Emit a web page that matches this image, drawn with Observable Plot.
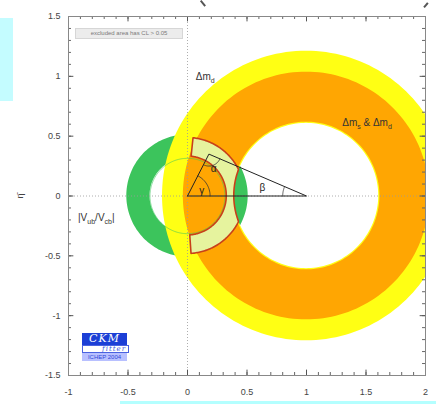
<!DOCTYPE html>
<html><head><meta charset="utf-8">
<script src="https://cdn.jsdelivr.net/npm/d3@7"></script>
<script src="https://cdn.jsdelivr.net/npm/@observablehq/plot@0.6"></script>
<style>
body{margin:0;background:#fff;font-family:"Liberation Sans",Arial,sans-serif;}
#wrap{position:relative;width:436px;height:404px;overflow:hidden;}
#wrap svg{position:absolute;left:0;top:0;}
.ov{position:absolute;}
#cyanL{left:0;top:18px;width:13px;height:83px;background:#c4fcff;}
#cyanB{left:120px;top:401px;width:316px;height:3px;background:#b4ffff;}
#legend{left:75px;top:28px;width:106px;height:9px;background:#ececec;border:1px solid #d6d6d6;font-size:6px;line-height:9px;color:#7a7a7a;text-align:center;white-space:nowrap;}
#logo1{left:82px;top:333px;width:45px;height:12px;background:#1c3fd6;color:#fff;font:italic 11px "DejaVu Serif",serif;line-height:12px;text-align:center;letter-spacing:1px;}
#logo2{left:82px;top:345px;width:43px;height:6px;background:#fff;border:1px solid #4a62e0;color:#3a55dd;font:italic 7px "DejaVu Serif",serif;line-height:6px;text-align:right;padding-right:2px;letter-spacing:1px;}
#logo3{left:82px;top:353px;width:45px;height:8px;background:#b8c0ff;color:#3048d8;font-size:6px;line-height:8px;text-align:center;}
#mk1{left:202px;top:0px;width:1.5px;height:7px;background:#555;transform:rotate(-40deg);}
#mk2{left:425px;top:2px;width:1.5px;height:6px;background:#555;transform:rotate(40deg);}
</style></head><body>
<div id="wrap">
<div class="ov" id="cyanL"></div>
<div class="ov" id="cyanB"></div>
<div class="ov" id="mk1"></div>
<div class="ov" id="mk2"></div>
</div>
<script>
// ---------- data ----------
// constraint bands (annuli): centre and inner/outer radius in (rho-bar, eta-bar)
const bandNames   = ["|Vub/Vcb|", "Δm_d", "Δm_s & Δm_d"];
const bandCenterX = [0, 1, 1];
const bandCenterY = [0, 0, 0];
const bandInnerR  = [0.315, 0.607, 0.617];
const bandOuterR  = [0.51, 1.21, 1.035];
const bandColors  = ["#3cc45c", "#ffff14", "#ffa602"];

// global fit region (annular sector around origin, cut by the Δm hole)
const fitInnerR = 0.33;
const fitOuterR = 0.485;
const fitAngleMin = -86;   // degrees
const fitAngleMax = 84;
const fitCutCenterX = 1;
const fitCutR = 0.607;

// unitarity triangle
const triRho = [0, 0.18, 1, 0];
const triEta = [0, 0.35, 0, 0];

// angle arcs: centre, radius
const arcNames = ["γ", "α", "β"];
const arcCx = [0, 0.18, 1];
const arcCy = [0, 0.35, 0];
const arcR  = [0.19, 0.1, 0.2];
const arcLabelX = [0.12, 0.22, 0.63];
const arcLabelY = [0.045, 0.23, 0.07];

// band labels
const labelText = ["Δm_{d}", "Δm_{s} & Δm_{d}", "|V_{ub}/V_{cb}|"];
const labelX = [0.07, 1.30, -0.92];
const labelY = [1.0, 0.61, -0.18];

// ticks
const xMajor = [-1, -0.5, 0, 0.5, 1, 1.5, 2];
const yMajor = [-1.5, -1, -0.5, 0, 0.5, 1, 1.5];
const xMinor = d3.range(-10, 21).map(i => i / 10);
const yMinor = d3.range(-15, 16).map(i => i / 10);

// ---------- geometry helpers ----------
const rad = Math.PI / 180;
const fullTurn = d3.range(0, 361, 2);
function annulusRows(i) {
  return fullTurn.map(a => {
    const c = Math.cos(a * rad), s = Math.sin(a * rad);
    return {x1: bandCenterX[i] + bandOuterR[i] * c, y1: bandCenterY[i] + bandOuterR[i] * s,
            x2: bandCenterX[i] + bandInnerR[i] * c, y2: bandCenterY[i] + bandInnerR[i] * s};
  });
}
function fitRows() {
  const k = fitCutCenterX * fitCutCenterX - fitCutR * fitCutR;
  return d3.range(fitAngleMin, fitAngleMax + 0.5, 1).map(a => {
    const c = Math.cos(a * rad), s = Math.sin(a * rad);
    const disc = c * c - k;
    const t = disc >= 0 && c > 0 ? c - Math.sqrt(disc) : Infinity;
    const ro = Math.min(fitOuterR, t);
    return {x1: ro * c, y1: ro * s, x2: fitInnerR * c, y2: fitInnerR * s};
  });
}
function arcPoints(i) {
  let a0, a1;
  if (i === 0) { a0 = 0; a1 = Math.atan2(triEta[1], triRho[1]); }
  else if (i === 1) { a0 = Math.atan2(-triEta[1], -triRho[1]); a1 = Math.atan2(-triEta[1], triRho[2] - triRho[1]); }
  else { a0 = Math.atan2(triEta[1], triRho[1] - triRho[2]); a1 = Math.PI; }
  return d3.range(0, 21).map(j => {
    const a = a0 + (a1 - a0) * j / 20;
    return {x: arcCx[i] + arcR[i] * Math.cos(a), y: arcCy[i] + arcR[i] * Math.sin(a)};
  });
}
const tri = triRho.map((x, i) => ({x, y: triEta[i]}));
const fmt = d => String(d);

// ---------- plot ----------
const bandOrder = [0, 1, 2];
const chart = Plot.plot({
  width: 436, height: 404,
  marginLeft: 68, marginRight: 11, marginTop: 16, marginBottom: 29,
  x: {domain: [-1, 2]},
  y: {domain: [-1.5, 1.5]},
  style: {fontFamily: "'Liberation Sans', Arial, sans-serif", fontSize: "9px", color: "#444", background: "transparent"},
  marks: [
    ...bandOrder.map(i => Plot.area(annulusRows(i), {x1: "x1", y1: "y1", x2: "x2", y2: "y2", fill: bandColors[i], curve: "linear", clip: true})),
    Plot.line(annulusRows(0), {x: "x2", y: "y2", stroke: "#3cc45c", strokeWidth: 1, strokeOpacity: 0.55, clip: true}),
    Plot.ruleX([0], {stroke: "#999", strokeDasharray: "1,2", strokeWidth: 0.8}),
    Plot.ruleY([0], {stroke: "#999", strokeDasharray: "1,2", strokeWidth: 0.8}),
    Plot.area(fitRows(), {x1: "x1", y1: "y1", x2: "x2", y2: "y2", fill: "#e6f39e", stroke: "#c8401a", strokeWidth: 1.6, strokeLinejoin: "round", curve: "linear"}),
    Plot.line(tri, {x: "x", y: "y", stroke: "#222", strokeWidth: 1}),
    ...[0, 1, 2].map(i => Plot.line(arcPoints(i), {x: "x", y: "y", stroke: "#333", strokeWidth: 0.8})),
    Plot.text(arcNames, {x: (d, i) => arcLabelX[i], y: (d, i) => arcLabelY[i], text: d => d, fontSize: 10, fill: "#222"}),
    Plot.text(labelText, {x: (d, i) => labelX[i], y: (d, i) => labelY[i], text: d => d, textAnchor: "start", fontSize: 10, fill: "#333"}),
    // inward ticks on all four sides
    Plot.ruleX(xMinor, {x: d => d, y1: -1.5, y2: -1.5 + 0.025, stroke: "#666"}),
    Plot.ruleX(xMinor, {x: d => d, y1: 1.5, y2: 1.5 - 0.025, stroke: "#666"}),
    Plot.ruleX(xMajor, {x: d => d, y1: -1.5, y2: -1.5 + 0.045, stroke: "#555"}),
    Plot.ruleX(xMajor, {x: d => d, y1: 1.5, y2: 1.5 - 0.045, stroke: "#555"}),
    Plot.ruleY(yMinor, {y: d => d, x1: -1, x2: -1 + 0.025, stroke: "#666"}),
    Plot.ruleY(yMinor, {y: d => d, x1: 2, x2: 2 - 0.025, stroke: "#666"}),
    Plot.ruleY(yMajor, {y: d => d, x1: -1, x2: -1 + 0.045, stroke: "#555"}),
    Plot.ruleY(yMajor, {y: d => d, x1: 2, x2: 2 - 0.045, stroke: "#555"}),
    Plot.frame({stroke: "#888"}),
    Plot.axisX(xMajor, {tickSize: 0, tickPadding: 13, tickFormat: fmt, label: null}),
    Plot.axisY(yMajor, {tickSize: 0, tickPadding: 8, tickFormat: fmt, label: "η̄", labelAnchor: "center", labelArrow: "none", labelOffset: 52, fontSize: 9})
  ]
});

// subscripts in labels
chart.querySelectorAll("text").forEach(t => {
  const s = t.textContent;
  if (!s.includes("_{")) return;
  t.textContent = "";
  const parts = s.split(/(_\{[^}]*\})/);
  let lowered = false;
  parts.forEach(p => {
    if (!p) return;
    const ts = document.createElementNS("http://www.w3.org/2000/svg", "tspan");
    if (p.startsWith("_{")) {
      ts.textContent = p.slice(2, -1);
      ts.setAttribute("font-size", "7");
      ts.setAttribute("dy", "3");
      lowered = true;
    } else {
      ts.textContent = p;
      if (lowered) { ts.setAttribute("dy", "-3"); lowered = false; }
    }
    t.appendChild(ts);
  });
});

const wrap = document.getElementById("wrap");
wrap.insertBefore(chart, document.getElementById("cyanL"));
const add = (id, txt) => { const d = document.createElement("div"); d.className = "ov"; d.id = id; d.textContent = txt; wrap.appendChild(d); };
add("legend", "excluded area has CL > 0.05");
add("logo1", "CKM");
add("logo2", "fitter");
add("logo3", "ICHEP 2004");
</script>
</body></html>
